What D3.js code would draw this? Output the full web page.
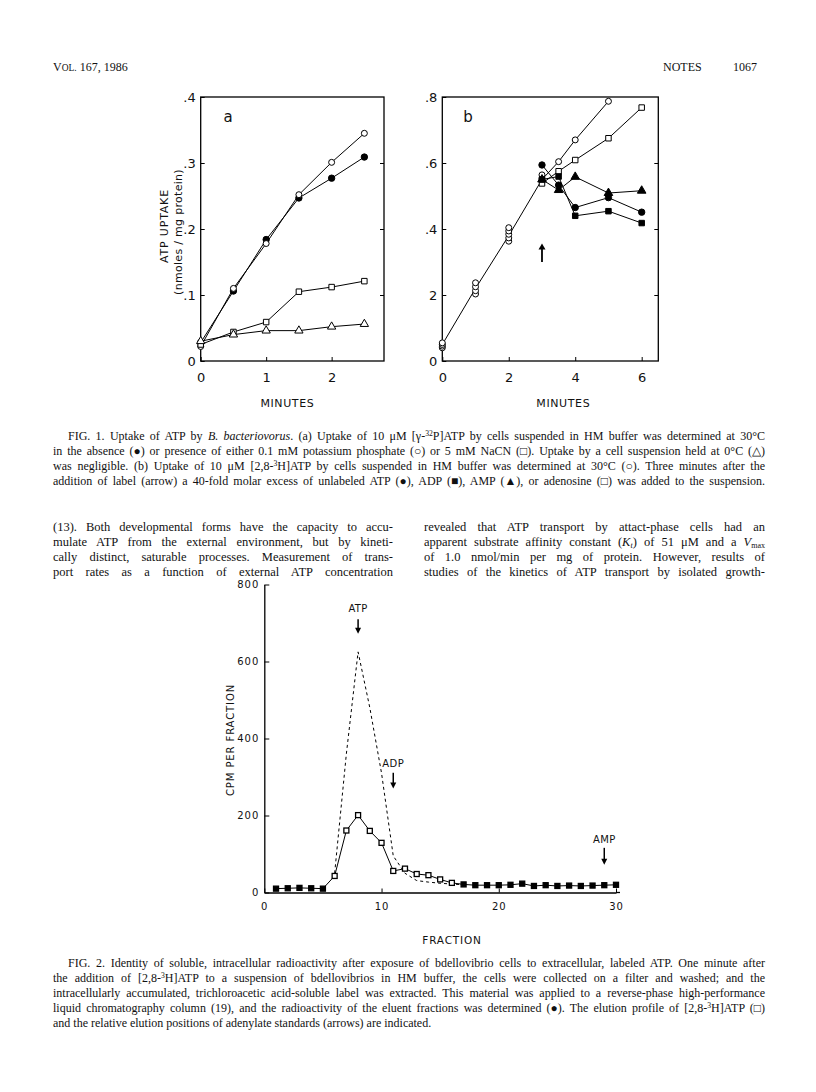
<!DOCTYPE html>
<html><head><meta charset="utf-8">
<script src="https://cdn.jsdelivr.net/npm/d3@7"></script>
<style>body{margin:0;background:#fff}svg{display:block}</style>
</head><body>
<svg id="page" width="816" height="1092"></svg>
<script>
// ---------------- DATA ----------------
// Fig 1a (minutes vs ATP uptake, nmoles/mg protein)
const aTimes = [0, 0.5, 1, 1.5, 2, 2.5];
const aAbsence = [0.028, 0.106, 0.184, 0.247, 0.277, 0.309];   // filled circles
const aPhosphate = [0.022, 0.110, 0.178, 0.252, 0.301, 0.345]; // open circles
const aNaCN = [0.025, 0.044, 0.059, 0.105, 0.112, 0.121];      // open squares
const aCold = [0.030, 0.040, 0.046, 0.046, 0.052, 0.056];      // open triangles
const aXTicks = [0, 1, 2];
const aXLabels = ["0", "1", "2"];
const aYTicks = [0, 0.1, 0.2, 0.3, 0.4];
const aYLabels = ["0", ".1", ".2", ".3", ".4"];

// Fig 1b
const bControlTimes = [0, 1, 2, 3, 3.5, 4, 5];
const bControl = [0.05, 0.22, 0.38, 0.55, 0.604, 0.67, 0.787];
const bRepTimes = [0, 0, 0, 0, 1, 1, 1, 1, 2, 2, 2, 2, 2, 3, 3, 3];
const bRepValues = [0.040, 0.045, 0.050, 0.055, 0.203, 0.213, 0.225, 0.237, 0.363, 0.373, 0.384, 0.394, 0.404, 0.546, 0.553, 0.564];
const bChaseTimes = [3, 3.5, 4, 5, 6];
const bATP = [0.594, 0.533, 0.465, 0.495, 0.451];       // filled circles
const bADP = [0.550, 0.559, 0.440, 0.454, 0.418];       // filled squares
const bAMP = [0.550, 0.518, 0.558, 0.509, 0.516];       // filled triangles
const bAdenosine = [0.538, 0.575, 0.609, 0.675, 0.768]; // open squares
const bXTicks = [0, 2, 4, 6];
const bXLabels = ["0", "2", "4", "6"];
const bYTicks = [0, 0.2, 0.4, 0.6, 0.8];
const bYLabels = ["0", "2", ".4", ".6", ".8"];
const bArrow = {x: 3, from: 0.30, to: 0.356};

// Fig 2
const fractions = [1,2,3,4,5,6,7,8,9,10,11,12,13,14,15,16,17,18,19,20,21,22,23,24,25,26,27,28,29,30];
const cpmExtract = [10,11,12,11,10,43,161,201,160,129,56,62,48,45,34,25,21,19,19,19,20,23,17,19,17,18,17,18,19,20];
const atpFractions = [6,7,8,9,10,11,12,13,14,15,16,17];
const atpStandard = [50,360,625,480,310,95,50,31,27,24,22,20];
const f2XTicks = [0, 10, 20, 30];
const f2YTicks = [0, 200, 400, 600, 800];
const markerNames = ["ATP", "ADP", "AMP"];
const markerFractions = [8, 11, 29];
const markerLabelCpm = [738, 337, 140];
const markerArrowTop = [710, 311, 116];
const markerArrowTip = [672, 270, 72];

// Text
const header = {left: "VOL. 167, 1986", section: "NOTES", page: "1067"};
const fig1Caption = [
  "FIG. 1. Uptake of ATP by _B. bacteriovorus_. (a) Uptake of 10 μM [γ-^32^P]ATP by cells suspended in HM buffer was determined at 30°C",
  "in the absence (●) or presence of either 0.1 mM potassium phosphate (○) or 5 mM NaCN (□). Uptake by a cell suspension held at 0°C (△)",
  "was negligible. (b) Uptake of 10 μM [2,8-^3^H]ATP by cells suspended in HM buffer was determined at 30°C (○). Three minutes after the",
  "addition of label (arrow) a 40-fold molar excess of unlabeled ATP (●), ADP (■), AMP (▲), or adenosine (□) was added to the suspension."
];
const bodyLeft = [
  "(13). Both developmental forms have the capacity to accu-",
  "mulate ATP from the external environment, but by kineti-",
  "cally distinct, saturable processes. Measurement of trans-",
  "port rates as a function of external ATP concentration"
];
const bodyRight = [
  "revealed that ATP transport by attact-phase cells had an",
  "apparent substrate affinity constant (_K_~_t_~) of 51 μM and a _V_~max~",
  "of 1.0 nmol/min per mg of protein. However, results of",
  "studies of the kinetics of ATP transport by isolated growth-"
];
const fig2Caption = [
  "FIG. 2. Identity of soluble, intracellular radioactivity after exposure of bdellovibrio cells to extracellular, labeled ATP. One minute after",
  "the addition of [2,8-^3^H]ATP to a suspension of bdellovibrios in HM buffer, the cells were collected on a filter and washed; and the",
  "intracellularly accumulated, trichloroacetic acid-soluble label was extracted. This material was applied to a reverse-phase high-performance",
  "liquid chromatography column (19), and the radioactivity of the eluent fractions was determined (●). The elution profile of [2,8-^3^H]ATP (□)",
  "and the relative elution positions of adenylate standards (arrows) are indicated."
];

// ---------------- DRAWING ----------------
const svg = d3.select("#page");
const serif = "'Liberation Serif','Times New Roman',serif";
const sans = "'DejaVu Sans','Liberation Sans',sans-serif";

// Rich text line with optional justification
function richLine(x, y, width, str, size, justify) {
  const t = svg.append("text").attr("x", x).attr("y", y)
    .attr("font-family", serif).attr("font-size", size).attr("fill", "#111");
  const parts = str.split(/(\^[^^]+\^|~[^~]+~)/).filter(p => p.length);
  let shift = 0;
  parts.forEach(p => {
    let sup = false, sub = false, s = p;
    if (p[0] === "^" && p.endsWith("^") && p.length > 2) { sup = true; s = p.slice(1, -1); }
    else if (p[0] === "~" && p.endsWith("~") && p.length > 2) { sub = true; s = p.slice(1, -1); }
    const target = sup ? -size * 0.36 : sub ? size * 0.16 : 0;
    s.split(/(_[^_]+_)/).filter(q => q.length).forEach(q => {
      let it = false, txt = q;
      if (q[0] === "_" && q.endsWith("_") && q.length > 2) { it = true; txt = q.slice(1, -1); }
      const ts = t.append("tspan").text(txt);
      if (it) ts.attr("font-style", "italic");
      if (sup || sub) ts.attr("font-size", size * 0.64);
      if (target !== shift) { ts.attr("dy", target - shift); shift = target; }
    });
  });
  if (justify) {
    const node = t.node();
    const w = node.getComputedTextLength();
    const spaces = (str.match(/ /g) || []).length;
    if (spaces > 0) t.style("word-spacing", ((width - w) / spaces) + "px");
  }
  return t;
}

// header
const hl = svg.append("text").attr("x", 53).attr("y", 71).attr("font-family", serif).attr("font-size", 12).attr("fill", "#111");
hl.append("tspan").text(header.left.slice(0, 1));
hl.append("tspan").attr("font-size", 9.5).text(header.left.slice(1, 4));
hl.append("tspan").text(header.left.slice(4));
svg.append("text").attr("x", 663).attr("y", 71).attr("font-family", serif).attr("font-size", 12).attr("fill", "#111").text(header.section);
svg.append("text").attr("x", 733).attr("y", 71).attr("font-family", serif).attr("font-size", 12).attr("fill", "#111").text(header.page);

// symbols
function marker(g, type, cx, cy) {
  const map = {
    oc: [d3.symbolCircle, 28, "#fff"], fc: [d3.symbolCircle, 32, "#000"],
    os: [d3.symbolSquare, 30, "#fff"], fs: [d3.symbolSquare, 30, "#000"],
    ot: [d3.symbolTriangle, 30, "#fff"], ft: [d3.symbolTriangle, 32, "#000"]
  };
  const [sym, size, fill] = map[type];
  g.append("path").attr("d", d3.symbol(sym, size)())
    .attr("transform", `translate(${cx},${cy})`)
    .attr("fill", fill).attr("stroke", "#000").attr("stroke-width", 1);
}

function series(g, x, y, xs, ys, type, dash) {
  const line = d3.line().x((d, i) => x(xs[i])).y(d => y(d));
  g.append("path").datum(ys).attr("d", line).attr("fill", "none")
    .attr("stroke", "#000").attr("stroke-width", 1).attr("stroke-dasharray", dash || null);
  if (type) ys.forEach((v, i) => marker(g, type, x(xs[i]), y(v)));
}

function framePanel(x, y, xTicks, xLabels, yTicks, yLabels) {
  const g = svg.append("g");
  const [x0, x1] = x.range(), [y0, y1] = y.range();
  g.append("rect").attr("x", x0).attr("y", y1).attr("width", x1 - x0).attr("height", y0 - y1)
    .attr("fill", "none").attr("stroke", "#000").attr("stroke-width", 1.3);
  const style = s => {
    s.select(".domain").remove();
    s.selectAll("text").attr("font-family", sans).attr("font-size", 13).attr("fill", "#111");
    s.selectAll("line").attr("stroke", "#000");
  };
  g.append("g").attr("transform", `translate(${x0},0)`)
    .call(d3.axisLeft(y).tickValues(yTicks).tickFormat((d, i) => yLabels[i]).tickSizeInner(-4).tickSizeOuter(0).tickPadding(5)).call(style);
  g.append("g").attr("transform", `translate(${x1},0)`)
    .call(d3.axisRight(y).tickValues(yTicks.slice(1, -1)).tickFormat("").tickSizeInner(-4).tickSizeOuter(0)).call(style);
  g.append("g").attr("transform", `translate(0,${y0})`)
    .call(d3.axisBottom(x).tickValues(xTicks).tickFormat((d, i) => xLabels[i]).tickSizeInner(-4).tickSizeOuter(0).tickPadding(12)).call(style);
  g.append("text").attr("x", (x0 + x1) / 2 + (x0 < 300 ? -5 : 13)).attr("y", 407)
    .attr("text-anchor", "middle").attr("font-family", sans).attr("font-size", 11)
    .attr("letter-spacing", 0.6).attr("fill", "#111").text("MINUTES");
  return g;
}

// ---- Fig 1a ----
const xa = d3.scaleLinear([0, 2.8], [200.7, 384]);
const ya = d3.scaleLinear([0, 0.4], [361, 97]);
const ga = framePanel(xa, ya, aXTicks, aXLabels, aYTicks, aYLabels);
series(ga, xa, ya, aTimes, aAbsence, "fc");
series(ga, xa, ya, aTimes, aPhosphate, "oc");
series(ga, xa, ya, aTimes, aNaCN, "os");
series(ga, xa, ya, aTimes, aCold, "ot");
svg.append("text").attr("x", 228).attr("y", 122).attr("text-anchor", "middle")
  .attr("font-family", sans).attr("font-size", 15).attr("fill", "#111").text("a");
svg.append("text").attr("transform", "translate(168,226) rotate(-90)").attr("text-anchor", "middle")
  .attr("font-family", sans).attr("font-size", 11).attr("letter-spacing", 0.8).attr("fill", "#111").text("ATP UPTAKE");
svg.append("text").attr("transform", "translate(182,232) rotate(-90)").attr("text-anchor", "middle")
  .attr("font-family", sans).attr("font-size", 11).attr("letter-spacing", 0.3).attr("fill", "#111").text("(nmoles / mg protein)");

// ---- Fig 1b ----
const xb = d3.scaleLinear([0, 6.5], [442.3, 658.3]);
const yb = d3.scaleLinear([0, 0.8], [361, 97]);
const gb = framePanel(xb, yb, bXTicks, bXLabels, bYTicks, bYLabels);
series(gb, xb, yb, bControlTimes, bControl, null);
bRepValues.forEach((v, i) => marker(gb, "oc", xb(bRepTimes[i]), yb(v)));
bControl.slice(4).forEach((v, i) => marker(gb, "oc", xb(bControlTimes[i + 4]), yb(v)));
series(gb, xb, yb, bChaseTimes, bAdenosine, "os");
series(gb, xb, yb, bChaseTimes, bAMP, "ft");
series(gb, xb, yb, bChaseTimes, bADP, "fs");
series(gb, xb, yb, bChaseTimes, bATP, "fc");
svg.append("text").attr("x", 468).attr("y", 122).attr("text-anchor", "middle")
  .attr("font-family", sans).attr("font-size", 15).attr("fill", "#111").text("b");
// arrow (up)
gb.append("line").attr("x1", xb(bArrow.x)).attr("x2", xb(bArrow.x)).attr("y1", yb(bArrow.from)).attr("y2", yb(bArrow.to) + 4)
  .attr("stroke", "#000").attr("stroke-width", 1.8);
gb.append("path").attr("d", `M${xb(bArrow.x)},${yb(bArrow.to)} l-3.5,6 l7,0 z`).attr("fill", "#000");

// ---- Fig 1 caption ----
fig1Caption.forEach((l, i) => richLine(i === 0 ? 68 : 53, 440 + i * 15, i === 0 ? 697 : 712, l, 12, true));

// ---- Body text ----
bodyLeft.forEach((l, i) => richLine(53, 530.5 + i * 15, 340, l, 12.5, true));
bodyRight.forEach((l, i) => richLine(424, 530.5 + i * 15, 341, l, 12.5, true));

// ---- Fig 2 ----
const x2 = d3.scaleLinear([0, 30], [264.3, 616]);
const y2 = d3.scaleLinear([0, 800], [892.5, 584.5]);
const g2 = svg.append("g");
const style2 = s => {
  s.selectAll("text").attr("font-family", sans).attr("font-size", 10).attr("fill", "#111").attr("letter-spacing", 1);
  s.selectAll("line").attr("stroke", "#000");
  s.select(".domain").attr("stroke", "#000").attr("stroke-width", 1.3);
};
g2.append("g").attr("transform", `translate(${x2(0)},0)`)
  .call(d3.axisLeft(y2).tickValues(f2YTicks).tickFormat(d3.format("d")).tickSizeInner(-5).tickSizeOuter(0).tickPadding(5)).call(style2);
g2.append("g").attr("transform", `translate(0,${y2(0)})`)
  .call(d3.axisBottom(x2).tickValues(f2XTicks).tickFormat(d3.format("d")).tickSizeInner(-4).tickSizeOuter(0).tickPadding(10)).call(style2);
g2.append("line").attr("x1", x2(30)).attr("x2", 620).attr("y1", y2(0)).attr("y2", y2(0)).attr("stroke", "#000").attr("stroke-width", 1.3);
series(g2, x2, y2, atpFractions, atpStandard, null, "3,3");
series(g2, x2, y2, fractions, cpmExtract, null);
cpmExtract.forEach((v, i) => {
  g2.append("rect").attr("x", x2(fractions[i]) - 2.5).attr("y", y2(v) - 2.5).attr("width", 5).attr("height", 5)
    .attr("fill", (fractions[i] <= 5 || fractions[i] >= 17) ? "#000" : "#fff").attr("stroke", "#000").attr("stroke-width", 1.3);
});
markerNames.forEach((n, i) => {
  const cx = x2(markerFractions[i]);
  g2.append("text").attr("x", cx).attr("y", y2(markerLabelCpm[i]) + 4).attr("text-anchor", "middle")
    .attr("font-family", sans).attr("font-size", 10).attr("letter-spacing", 0.4).attr("fill", "#111").text(n);
  g2.append("line").attr("x1", cx).attr("x2", cx).attr("y1", y2(markerArrowTop[i])).attr("y2", y2(markerArrowTip[i]) - 4)
    .attr("stroke", "#000").attr("stroke-width", 1.5);
  g2.append("path").attr("d", `M${cx},${y2(markerArrowTip[i])} l-3,-6 l6,0 z`).attr("fill", "#000");
});
svg.append("text").attr("x", 452).attr("y", 944).attr("text-anchor", "middle").attr("font-family", sans)
  .attr("font-size", 10.5).attr("letter-spacing", 0.8).attr("fill", "#111").text("FRACTION");
svg.append("text").attr("transform", "translate(234,740) rotate(-90)").attr("text-anchor", "middle").attr("font-family", sans)
  .attr("font-size", 10).attr("letter-spacing", 0.9).attr("fill", "#111").text("CPM PER FRACTION");

// ---- Fig 2 caption ----
fig2Caption.forEach((l, i) => richLine(i === 0 ? 68 : 53, 967 + i * 15, i === 0 ? 697 : 712, l, 12, i < fig2Caption.length - 1));
</script>
</body></html>
